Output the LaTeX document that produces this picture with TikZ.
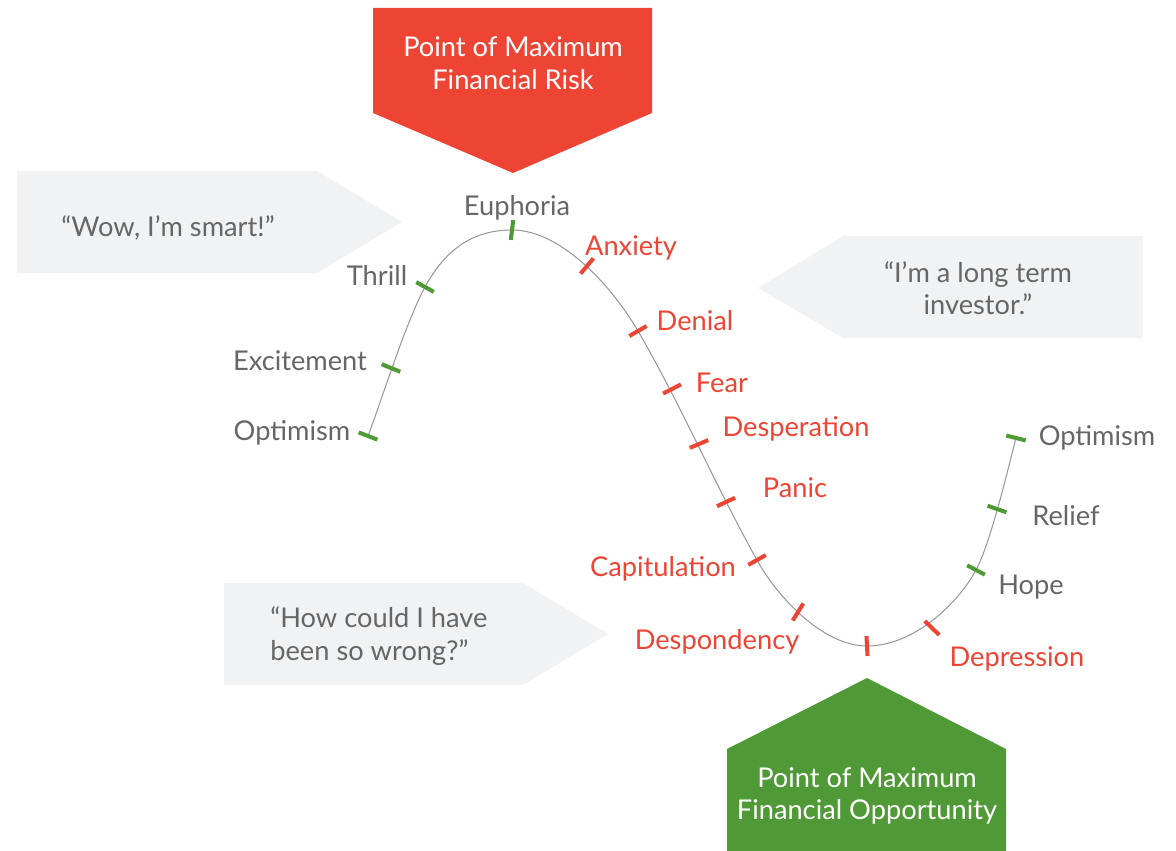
\documentclass[tikz,border=0pt]{standalone}
\usepackage{fontspec}
\setmainfont{Lato}
\definecolor{riskred}{HTML}{EE4433}
\definecolor{oppgreen}{HTML}{4F9A36}
\definecolor{txtgray}{HTML}{666666}
\definecolor{boxgray}{HTML}{F1F2F3}
\definecolor{curvegray}{HTML}{999999}
\begin{document}
\begin{tikzpicture}[x=0.02cm, y=-0.02cm,
        every node/.style={font=\fontsize{15.5}{18.5}\selectfont, inner sep=0pt},
        calm/.style={text=txtgray},
        alarm/.style={text=riskred},
        gtick/.style={oppgreen, line width=2.3pt},
        rtick/.style={riskred, line width=2.3pt}]
        \useasboundingbox (0,0) rectangle (1176,851);

        % Speech arrows
        \fill[boxgray] (17,171) -- (317,171) -- (402,222) -- (317,273) -- (17,273) -- cycle;
        \fill[boxgray] (1143,236) -- (843,236) -- (758,288) -- (843,338) -- (1143,338) -- cycle;
        \fill[boxgray] (224,583) -- (523,583) -- (608,634) -- (523,685) -- (224,685) -- cycle;
        \node[calm] (smart) at (168,228) {“Wow, I’m smart!”};
        \node[calm, align=center] (longterm) at (978,288) {“I’m a long term\\investor.”};
        \node[calm, align=left, anchor=west] (wrong) at (270,636) {“How could I have\\been so wrong?”};

        % Risk and opportunity markers
        \fill[riskred] (373,8) -- (652,8) -- (652,113) -- (513,173) -- (373,113) -- cycle;
        \node[text=white, align=center] (risk) at (513,63) {Point of Maximum\\Financial Risk};
        \fill[oppgreen] (867,678) -- (1006,749) -- (1006,851) -- (727,851) -- (727,749) -- cycle;
        \node[text=white, align=center] (chance) at (867,796) {Point of Maximum\\Financial Opportunity};

        % Points on the cycle
        \coordinate (optA) at (368,436);
        \coordinate (excite) at (391,368);
        \coordinate (thrill) at (425,287);
        \coordinate (euph) at (512,230);
        \coordinate (anx) at (587,266);
        \coordinate (denial) at (638,331);
        \coordinate (fear) at (672,389);
        \coordinate (desp) at (699,444);
        \coordinate (panic) at (726,502);
        \coordinate (capit) at (757,560);
        \coordinate (despond) at (798,612);
        \coordinate (bottom) at (867,646);
        \coordinate (depr) at (932,628);
        \coordinate (hope) at (976,570);
        \coordinate (relief) at (997,509);
        \coordinate (optB) at (1016,438);

        % The curve
        \draw[curvegray, line width=0.6pt] (optA) .. controls (382,399) and (406,322) .. (thrill)
            .. controls (442,256) and (467,230) .. (euph)
            .. controls (562,230) and (613,288) .. (denial)
            .. controls (681,405) and (715,485) .. (capit)
            .. controls (776,595) and (822,646) .. (bottom)
            .. controls (913,646) and (957,605) .. (hope)
            .. controls (990,544) and (1006,477) .. (optB);

        % Ticks
        \foreach \p/\a in {optA/21, excite/22, thrill/29, euph/97, hope/28, relief/19, optB/14}
            \draw[gtick] (\p) ++(\a:10) -- ++(\a:-20);
        \foreach \p/\a in {anx/130, denial/150, fear/153, desp/157, panic/155, capit/151, despond/122, bottom/87, depr/44}
            \draw[rtick] (\p) ++(\a:10) -- ++(\a:-20);

        % Labels
        \node[calm] (lOptA) at (292,433) {Optimism};
        \node[calm] (lExcite) at (300,361) {Excitement};
        \node[calm] (lThrill) at (377,275) {Thrill};
        \node[calm] (lEuph) at (517,208) {Euphoria};
        \node[alarm] (lAnx) at (631,248) {Anxiety};
        \node[alarm] (lDenial) at (695,321) {Denial};
        \node[alarm] (lFear) at (722,383) {Fear};
        \node[alarm] (lDesp) at (796,429) {Desperation};
        \node[alarm] (lPanic) at (795,488) {Panic};
        \node[alarm] (lCapit) at (663,569) {Capitulation};
        \node[alarm] (lDespond) at (717,642) {Despondency};
        \node[alarm] (lDepr) at (1017,659) {Depression};
        \node[calm] (lHope) at (1031,587) {Hope};
        \node[calm] (lRelief) at (1066,516) {Relief};
        \node[calm] (lOptB) at (1097,438) {Optimism};
\end{tikzpicture}
\end{document}
